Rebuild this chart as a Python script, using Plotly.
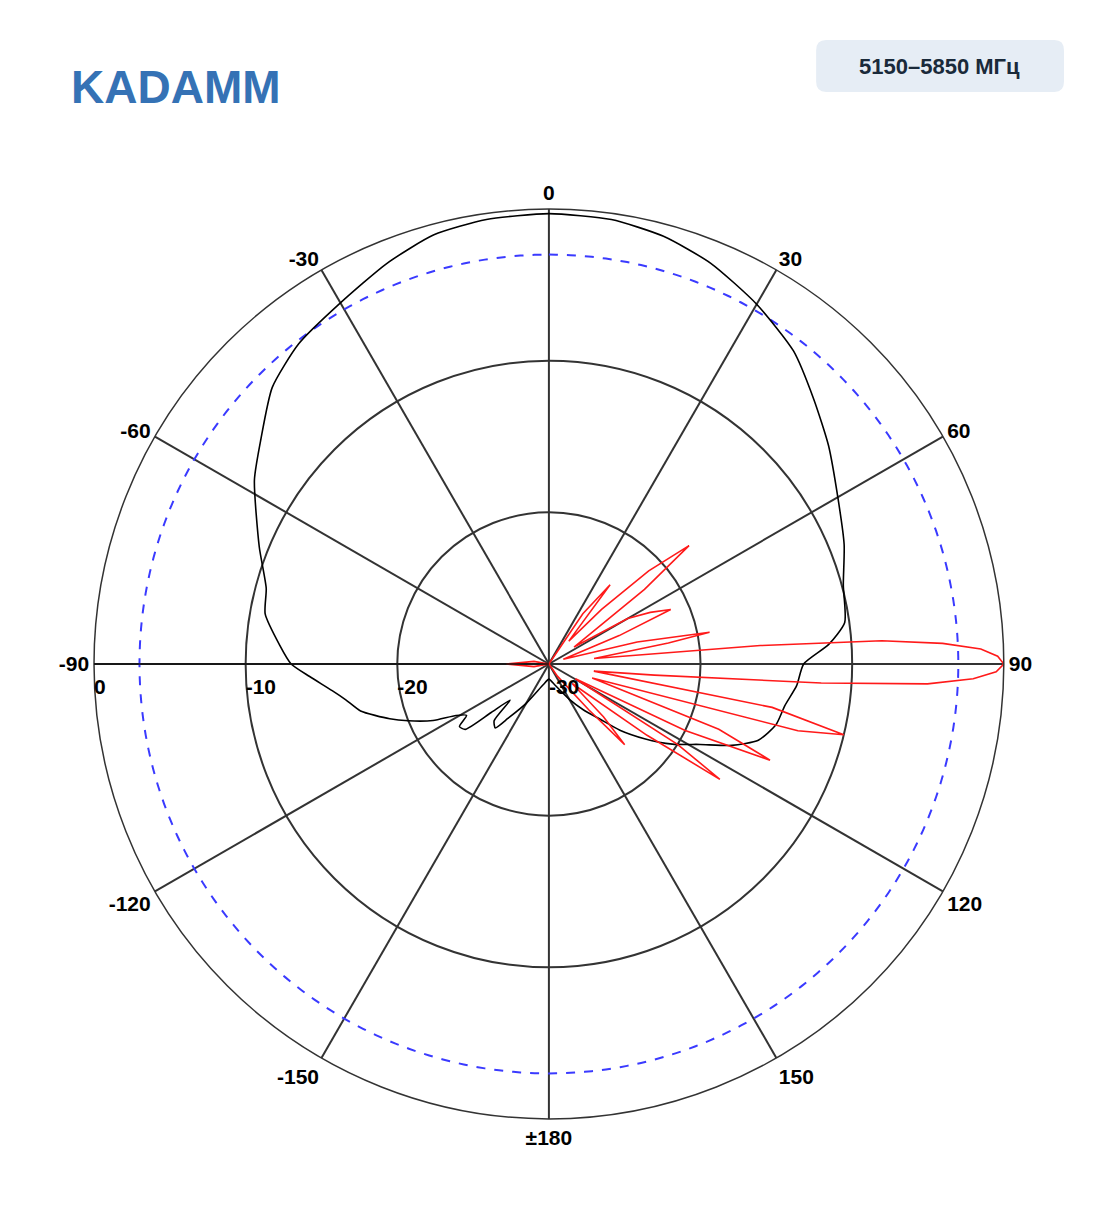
import numpy as np
import plotly.graph_objects as go

black_theta = [0, 8, 15, 22, 30, 38, 45, 52, 60, 68, 75, 82, 86, 90, 95, 100, 105, 110, 114, 118, 123, 128, 133, 137, 143, 150, 165, 180,
               -165, -150, -143, -140, -136, -133, -130, -128, -125, -122, -119, -116, -112, -109, -104, -100, -97, -93, -90, -86, -80, -75, -68, -58, -52, -45, -38, -30, -22, -15, -8, 0]
black_r = [-0.3, -0.4, -0.8, -1.5, -2.6, -3.8, -5.3, -6.6, -8.0, -9.0, -9.9, -10.3, -11.5, -13.2, -13.6, -14.2, -14.5, -15.3, -16.8, -18.7, -20.3, -22.0, -23.6, -25.0, -26.2, -27.3, -28.6, -29.0,
           -28.6, -27.0, -25.5, -24.5, -24.8, -26.5, -25.0, -23.0, -22.8, -23.6, -23.0, -21.5, -20.0, -18.9, -17.2, -16.4, -15.6, -14.2, -13.0, -12.2, -11.0, -10.7, -9.4, -7.1, -5.9, -4.2, -3.2, -2.5, -1.5, -0.7, -0.4, -0.3]

red_theta = [0, 20, 30, 34, 37.7, 41, 44, 47, 49.8, 52, 56, 60, 63, 65.9, 68, 72, 76, 78.8, 80, 83, 85, 86, 87, 88, 89, 90,
             91, 92, 93, 94, 96, 99, 101, 103.5, 105, 108, 111, 113.5, 116, 119, 122, 124, 126, 130, 134, 136.8, 139, 145, 160,
             180, -150, -120, -100, -90, -80, -60, -30, 0]
red_r = [-30, -30, -30, -26, -23.4, -28, -25, -21, -17.9, -22, -28, -24, -22.5, -21.2, -25, -29, -24, -19.2, -22, -27, -16, -8, -4, -1.5, -0.4, 0,
         -0.5, -2.0, -5.0, -12, -23, -27, -15, -10.0, -13, -27, -18, -14.1, -20, -28, -20, -16.4, -22, -28, -25, -22.7, -26, -29, -30,
         -30, -30, -30, -29, -27.2, -29, -30, -30, -30]

ref_db = -3.0
ref_theta = np.linspace(0, 360, 361)

ang_vals = [0, 30, 60, 90, 120, 150, 180, 210, 240, 270, 300, 330]
ang_text = ["0", "30", "60", "90", "120", "150", "±180", "-150", "-120", "-90", "-60", "-30"]
rad_vals = [-30, -20, -10, 0]
rad_text = ["-30", "-20", "-10", "0"]

fig = go.Figure()
fig.add_trace(go.Scatterpolar(theta=ref_theta, r=[ref_db] * len(ref_theta), mode="lines",
                              line=dict(color="#3a3aff", width=2, dash="dash"), hoverinfo="skip"))
fig.add_trace(go.Scatterpolar(theta=black_theta, r=black_r, mode="lines",
                              line=dict(color="black", width=1.6, shape="spline", smoothing=0.6)))
fig.add_trace(go.Scatterpolar(theta=red_theta, r=red_r, mode="lines",
                              line=dict(color="#ff1a1a", width=1.6)))

tickfont = dict(family="Liberation Sans", size=21, color="black", weight="bold")
fig.update_layout(
    width=1104, height=1211, showlegend=False,
    paper_bgcolor="white", plot_bgcolor="white",
    margin=dict(l=0, r=0, t=0, b=0),
    polar=dict(
        domain=dict(x=[0.0779, 0.902], y=[0.0826, 0.834]),
        bgcolor="white",
        angularaxis=dict(direction="clockwise", rotation=90, tickvals=ang_vals, ticktext=ang_text,
                         showgrid=True, gridcolor="#333", gridwidth=1.5, linecolor="#333", linewidth=1.5,
                         ticks="", tickfont=tickfont),
        radialaxis=dict(range=[-30, 0], tickvals=rad_vals, ticktext=rad_text, angle=180, tickangle=180,
                        showgrid=True, gridcolor="#333", gridwidth=1.5, showline=True, linecolor="#111",
                        linewidth=1.5, ticks="", tickfont=tickfont, side="counterclockwise"),
    ),
)

fig.add_annotation(x=0.055, y=0.935, xref="paper", yref="paper", xanchor="left", yanchor="middle",
                   text="<b>KADAMM</b>", showarrow=False,
                   font=dict(family="Liberation Sans", size=46, color="#3572b5"))
fig.add_shape(type="path", xref="paper", yref="paper",
              path="M 0.741,0.9736 L 0.948,0.9736 Q 0.9565,0.9736 0.9565,0.965 L 0.9565,0.939 Q 0.9565,0.9306 0.948,0.9306 L 0.741,0.9306 Q 0.732,0.9306 0.732,0.939 L 0.732,0.965 Q 0.732,0.9736 0.741,0.9736 Z",
              fillcolor="#e6edf5", line=dict(width=0))
fig.add_annotation(x=0.844, y=0.952, xref="paper", yref="paper", xanchor="center", yanchor="middle",
                   text="<b>5150–5850 МГц</b>",
                   showarrow=False, font=dict(family="Liberation Sans", size=22, color="#1a2a3a"))

fig.write_html("out.html")
